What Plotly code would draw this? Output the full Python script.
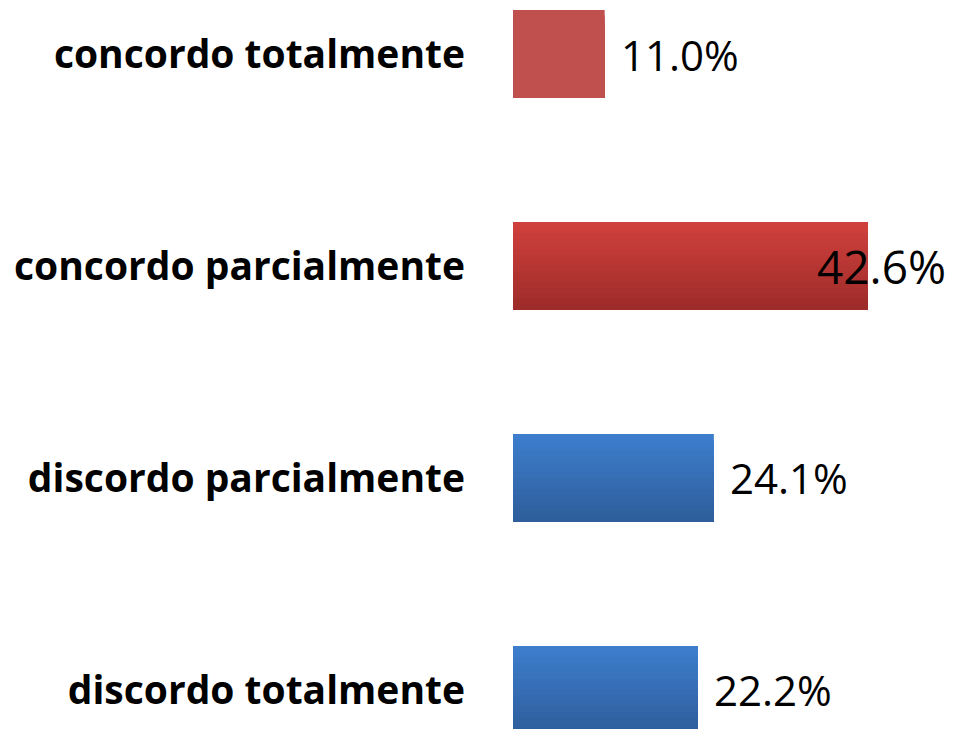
import plotly.graph_objects as go

categories = ["discordo totalmente", "discordo parcialmente", "concordo parcialmente", "concordo totalmente"]
values = [22.2, 24.1, 42.6, 11.0]
value_labels = ["22.2%", "24.1%", "42.6%", "11.0%"]
top_colors = ["#3D7DCC", "#3D7DCC", "#CF403C", "#C0504D"]
bottom_colors = ["#2E5E9C", "#2E5E9C", "#9E2C2A", "#C0504D"]

XMAX = 53.16
BAR_W = 0.415
N_SLICES = 16


def hex2rgb(h):
    h = h.lstrip("#")
    return [int(h[i:i + 2], 16) for i in (0, 2, 4)]


def mix(c1, c2, t):
    a, b = hex2rgb(c1), hex2rgb(c2)
    return "rgb(%d,%d,%d)" % tuple(round(a[k] + (b[k] - a[k]) * t) for k in range(3))


fig = go.Figure()
# vertical gradient: nested bars sharing the bottom edge, drawn tallest first
for i in range(N_SLICES):
    t = i / (N_SLICES - 1)
    height = BAR_W * (N_SLICES - i) / N_SLICES
    fig.add_trace(go.Bar(
        x=values, y=categories, orientation="h",
        marker=dict(color=[mix(tc, bc, t) for tc, bc in zip(top_colors, bottom_colors)],
                    line=dict(width=0)),
        width=height, offset=-BAR_W / 2,
        hoverinfo="skip", showlegend=False,
    ))

for v, c, t in zip(values, categories, value_labels):
    if v > 40:
        fig.add_annotation(x=XMAX, y=c, text=t, showarrow=False, xanchor="right",
                           xshift=-8, yshift=0, font=dict(family="Open Sans", size=46, color="#000"))
    else:
        fig.add_annotation(x=v, y=c, text=t, showarrow=False, xanchor="left",
                           xshift=14, yshift=0, font=dict(family="Open Sans", size=42, color="#000"))

fig.update_layout(
    width=956, height=729,
    margin=dict(l=505, r=8, t=0, b=0, autoexpand=False),
    paper_bgcolor="white", plot_bgcolor="white",
    showlegend=False, barmode="overlay",
    xaxis=dict(range=[0, XMAX], visible=False, fixedrange=True, automargin=False),
    yaxis=dict(range=[-0.222, 3.217], categoryorder="array", categoryarray=categories,
               showgrid=False, zeroline=False, showline=False, ticks="",
               ticklabelstandoff=47, automargin=False,
               tickfont=dict(family="Open Sans", size=39, color="#000", weight="bold")),
)

fig.write_html("out.html")
